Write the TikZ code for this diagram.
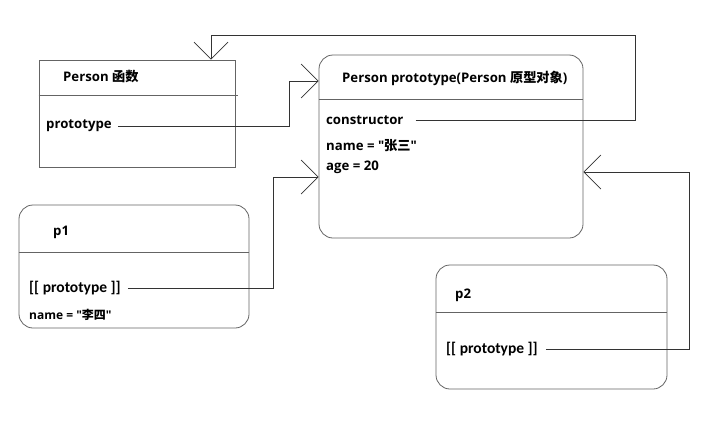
\documentclass[tikz,border=0pt]{standalone}
\usepackage{fontspec}
\setmainfont{Open Sans}[Ligatures=TeXOff]
\newfontfamily\cjk{Noto Sans CJK SC}
\newfontfamily\calib{Carlito}[BoldFont={Carlito Bold}]
\usetikzlibrary{arrows.meta,positioning,calc}
\definecolor{boxgray}{RGB}{100,100,100}
\tikzstyle{objbox} = [rectangle, draw=boxgray, line width=0.8pt, inner sep=0pt]
\tikzstyle{roundbox} = [objbox, rounded corners=14pt]
\tikzstyle{divider} = [draw=boxgray, line width=0.8pt]
\tikzstyle{field} = [anchor=west, inner sep=0pt, font=\bfseries\fontsize{13.2}{15}\selectfont]
\tikzstyle{slot} = [anchor=west, inner sep=0pt, font=\calib\bfseries\fontsize{15.5}{18}\selectfont]
\tikzstyle{link} = [line width=0.7pt, color=black!80, -{Straight Barb[length=17pt,width=34pt]}]

\begin{document}
\begin{tikzpicture}[x=1pt,y=-1pt]
\useasboundingbox (0,0) rectangle (719,423);

% Boxes
\node[objbox, minimum width=196pt, minimum height=107pt] (func) at (137,113.5) {};
\node[roundbox, minimum width=264pt, minimum height=183pt] (proto) at (451,146.5) {};
\node[roundbox, minimum width=230pt, minimum height=123pt] (p1) at (134,266.5) {};
\node[roundbox, minimum width=231pt, minimum height=124pt] (p2) at (551.5,327) {};

\draw[divider] ($(func.north west)+(0,36)$) -- ($(func.north east)+(3,36)$);
\draw[divider] ($(proto.north west)+(0,45)$) -- ($(proto.north east)+(0,45)$);
\draw[divider] ($(p1.north west)+(0,48)$) -- ($(p1.north east)+(0,48)$);
\draw[divider] ($(p2.north west)+(0,48)$) -- ($(p2.north east)+(0,48)$);

% Texts
\node[field] (ftitle) at (63,77) {Person {\cjk 函数}};
\node[field] (fproto) at (46,126) {prototype};
\node[field] (ptitle) at (342,78) {Person prototype(Person {\cjk 原型对象})};
\node[field] (pcons) at (326,120) {constructor};
\node[field] (pname) at (326,146) {name = "{\cjk 张三}"};
\node[field] (page) at (326,167) {age = 20};
\node[field] (p1title) at (53,232) {p1};
\node[slot] (p1proto) at (29,288) {[[ prototype ]]};
\node[field, font=\bfseries\fontsize{12}{14}\selectfont] (p1name) at (29,315) {name = "{\cjk 李四}"};
\node[field] (p2title) at (455,295) {p2};
\node[slot] (p2proto) at (446,349) {[[ prototype ]]};

% Links
\coordinate (fbend) at (289,81);
\draw[link] ($(fproto.east)+(6,0)$) -| (fbend) -- (fbend -| proto.west);

\coordinate (cright) at (635,35);
\coordinate (cleft) at (211,35);
\draw[link] ($(pcons.east)+(12,0)$) -| (cright) -- (cleft) -- (cleft |- func.north);

\coordinate (p1bend) at (273,177);
\draw[link] ($(p1proto.east)+(7,0)$) -| (p1bend) -- (p1bend -| proto.west);

\coordinate (p2bend) at (689,172);
\draw[link] ($(p2proto.east)+(8,0)$) -| (p2bend) -- (p2bend -| proto.east);
\end{tikzpicture}
\end{document}
